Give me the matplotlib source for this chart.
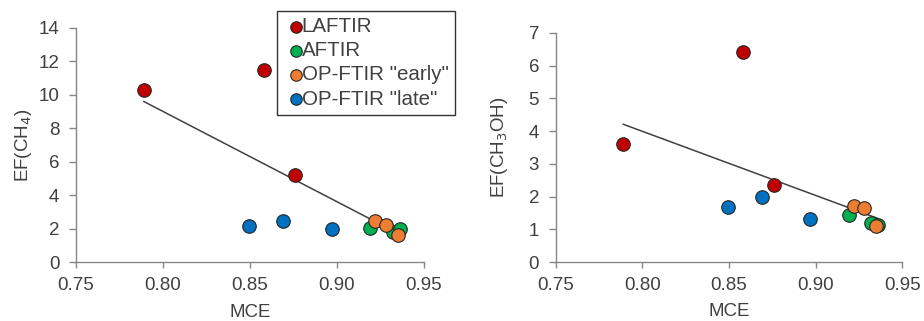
import matplotlib.pyplot as plt
import numpy as np

plt.rcParams['font.family'] = ['Liberation Sans', 'DejaVu Sans']

groups = ['LAFTIR', 'AFTIR', 'OP-FTIR "early"', 'OP-FTIR "late"']
colors = ['#C00000', '#00B050', '#ED7D31', '#0070C0']

# MCE per group
mce = {
    'LAFTIR': [0.789, 0.858, 0.876],
    'AFTIR': [0.919, 0.932, 0.936],
    'OP-FTIR "early"': [0.922, 0.928, 0.935],
    'OP-FTIR "late"': [0.8495, 0.869, 0.897],
}
ef_ch4 = {
    'LAFTIR': [10.3, 11.5, 5.2],
    'AFTIR': [2.05, 1.8, 2.0],
    'OP-FTIR "early"': [2.45, 2.2, 1.6],
    'OP-FTIR "late"': [2.13, 2.43, 2.0],
}
ef_ch3oh = {
    'LAFTIR': [3.6, 6.41, 2.34],
    'AFTIR': [1.43, 1.18, 1.13],
    'OP-FTIR "early"': [1.7, 1.65, 1.09],
    'OP-FTIR "late"': [1.69, 1.98, 1.32],
}

# trend lines
trend_x = [0.789, 0.936]
trend_ch4 = [9.6, 1.66]
trend_ch3oh = [4.21, 1.33]

text_col = '#404040'
axis_col = '#868686'

fig = plt.figure(figsize=(9.24, 3.21), dpi=100)
ax1 = fig.add_axes([0.0823, 0.1838, 0.3766, 0.729])
ax2 = fig.add_axes([0.6014, 0.1838, 0.3751, 0.7134])


def style(ax, ymax, ystep, ylabel, ylab_x, xlab_y):
    ax.set_xlim(0.75, 0.95)
    ax.set_ylim(0, ymax)
    ticks = np.arange(0.75, 0.951, 0.05)
    ax.set_xticks(ticks)
    ax.set_xticklabels(['%.2f' % v for v in ticks])
    ax.set_yticks(np.arange(0, ymax + 0.1, ystep))
    for s in ['top', 'right']:
        ax.spines[s].set_visible(False)
    for s in ['left', 'bottom']:
        ax.spines[s].set_color(axis_col)
        ax.spines[s].set_linewidth(1.0)
    ax.tick_params(colors=axis_col, labelcolor=text_col, labelsize=13.5,
                   width=1, direction='out')
    ax.tick_params(axis='x', length=4, pad=7)
    ax.tick_params(axis='y', length=5, pad=7)
    ax.set_xlabel('MCE', fontsize=13.5, color=text_col, va='center')
    ax.set_ylabel(ylabel, fontsize=13.5, color=text_col, va='center')
    ax.yaxis.set_label_coords(ylab_x, 0.5)
    ax.xaxis.set_label_coords(0.5, xlab_y)


ax1.plot(trend_x, trend_ch4, color='#404040', lw=1.1, zorder=2)
ax2.plot(trend_x, trend_ch3oh, color='#404040', lw=1.1, zorder=2)
for g, c in zip(groups, colors):
    ax1.scatter(mce[g], ef_ch4[g], s=95, color=c, edgecolor='#262626',
                linewidth=0.8, zorder=3, label=g)
    ax2.scatter(mce[g], ef_ch3oh[g], s=95, color=c, edgecolor='#262626',
                linewidth=0.8, zorder=3)

style(ax1, 14, 2, 'EF(CH$_4$)', -0.152, -0.214)
style(ax2, 7, 1, 'EF(CH$_3$OH)', -0.161, -0.218)

leg = ax1.legend(loc='upper left', bbox_to_anchor=(277 / 924, 1 - 11 / 321),
                 bbox_transform=fig.transFigure, fontsize=14.8, frameon=True,
                 fancybox=False, edgecolor='#000000', handletextpad=-0.3,
                 borderpad=0.3, labelspacing=0.25, markerscale=0.85,
                 handlelength=1.2, borderaxespad=0)
leg.get_frame().set_linewidth(1.0)
for t in leg.get_texts():
    t.set_color(text_col)

plt.savefig('out.png', dpi=100)
